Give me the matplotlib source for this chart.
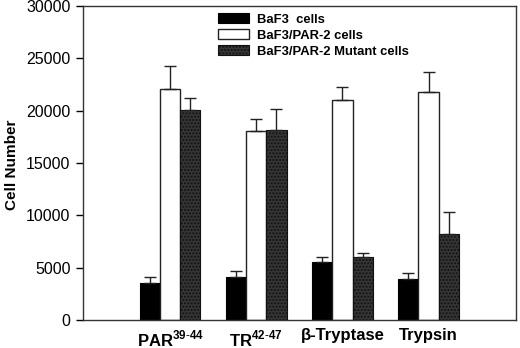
import matplotlib
matplotlib.use("Agg")
import matplotlib.pyplot as plt
import numpy as np

plt.rcParams['font.family'] = ['Liberation Sans', 'DejaVu Sans']
plt.rcParams['mathtext.fontset'] = 'custom'
plt.rcParams['mathtext.rm'] = 'Liberation Sans'
plt.rcParams['mathtext.bf'] = 'Liberation Sans:bold'
plt.rcParams['hatch.color'] = '#6a6a6a'

categories = ["PAR$^{\\mathbf{39\\text{-}44}}$", "TR$^{\\mathbf{42\\text{-}47}}$", "β-Tryptase", "Trypsin"]
series_names = ["BaF3  cells", "BaF3/PAR-2 cells", "BaF3/PAR-2 Mutant cells"]
baf3 = [3500, 4100, 5500, 3950]
baf3_err = [580, 600, 490, 570]
par2 = [22070, 18090, 21050, 21750]
par2_err = [2170, 1140, 1240, 1970]
mutant = [20060, 18150, 5990, 8190]
mutant_err = [1120, 1980, 410, 2100]
yticks = [0, 5000, 10000, 15000, 20000, 25000, 30000]

W, H = 520, 348
fig = plt.figure(figsize=(5.2, 3.48), dpi=100)
left, right, top, bottom = 83, 516, 6, 320
ax = fig.add_axes([left / W, (H - bottom) / H, (right - left) / W, (bottom - top) / H])

x = np.arange(len(categories))
w = 0.235
ekw = dict(elinewidth=1, capsize=4, capthick=1, ecolor='#222222')
ax.bar(x - w, baf3, w, yerr=[np.zeros(4), baf3_err], color='black', edgecolor='black',
       linewidth=0.8, error_kw=ekw, label=series_names[0])
ax.bar(x, par2, w, yerr=[np.zeros(4), par2_err], color='white', edgecolor='#222222',
       linewidth=1.0, error_kw=ekw, label=series_names[1])
ax.bar(x + w, mutant, w, yerr=[np.zeros(4), mutant_err], color='#363636', edgecolor='#111111',
       linewidth=0.8, error_kw=ekw, label=series_names[2], hatch='.....')

ax.set_xlim(-1.009, 4.014)
ax.set_ylim(0, 30000)
ax.set_yticks(yticks)
ax.set_yticklabels([str(t) for t in yticks], fontsize=11.5)
ax.set_xticks(x)
ax.set_xticklabels(categories, fontsize=12, fontweight='bold')
ax.tick_params(axis='x', length=0, pad=6)
ax.tick_params(axis='y', direction='out', length=5, width=1, pad=4)
for s in ax.spines.values():
    s.set_linewidth(1)
    s.set_color('#333333')

fig.text(12 / W, (H - 165) / H, "Cell Number", rotation=90, ha='center', va='center',
         fontsize=11, fontweight='bold')

leg = ax.legend(loc='upper left', bbox_to_anchor=((218 - left) / (right - left), (bottom - 13) / (bottom - top)),
                frameon=False, prop={'weight': 'bold', 'size': 9.4}, handlelength=2.4,
                handleheight=0.85, labelspacing=0.25, handletextpad=0.55,
                borderaxespad=0, borderpad=0)

fig.savefig("out.png", dpi=100)
